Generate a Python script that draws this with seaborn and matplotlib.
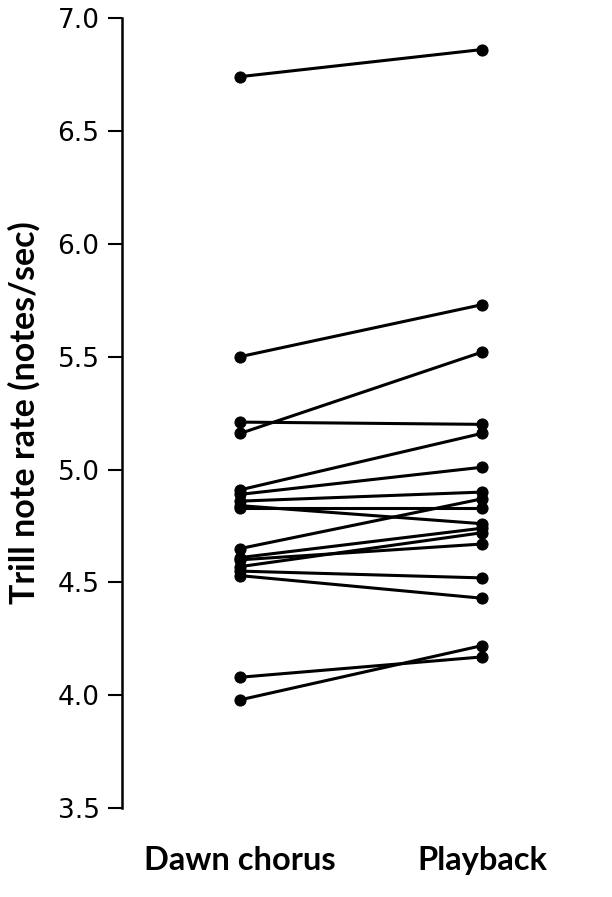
import matplotlib
matplotlib.use("Agg")
import matplotlib.pyplot as plt
import seaborn as sns
import pandas as pd

conditions = ["Dawn chorus", "Playback"]
dawn = [6.74, 5.50, 5.16, 5.21, 4.91, 4.89, 4.86, 4.84, 4.83,
        4.65, 4.61, 4.60, 4.57, 4.55, 4.53, 4.08, 3.98]
playback = [6.86, 5.73, 5.52, 5.20, 5.16, 5.01, 4.90, 4.76, 4.83,
            4.87, 4.74, 4.67, 4.72, 4.52, 4.43, 4.17, 4.22]
yticks = [3.5, 4.0, 4.5, 5.0, 5.5, 6.0, 6.5, 7.0]

rows = []
for i, (d, p) in enumerate(zip(dawn, playback)):
    rows.append({"bird": i, "condition": conditions[0], "rate": d})
    rows.append({"bird": i, "condition": conditions[1], "rate": p})
df = pd.DataFrame(rows)

sns.set_style("ticks")
plt.rcParams["text.color"] = "black"
plt.rcParams["xtick.color"] = "black"
plt.rcParams["ytick.color"] = "black"
plt.rcParams["axes.labelcolor"] = "black"
plt.rcParams["axes.edgecolor"] = "black"

fig = plt.figure(figsize=(6.12, 8.97), dpi=100)
ax = fig.add_axes([0.199, 0.099, 0.786, 0.881])
sns.lineplot(data=df, x="condition", y="rate", units="bird", estimator=None,
             color="black", linewidth=2.2, marker="o", markersize=8,
             markeredgecolor="black", ax=ax, sort=False)
ax.set_xlim(-0.49, 1.5)
ax.set_ylim(3.5, 7.0)
ax.set_yticks(yticks)
ax.set_yticklabels([f"{v:.1f}" for v in yticks], fontsize=19, family="DejaVu Sans")
ax.set_xticks([0, 1])
ax.set_xticklabels(conditions, fontsize=23.5, fontweight="bold", family="Lato")
ax.tick_params(axis="x", length=0, pad=27)
ax.tick_params(axis="y", length=10, width=1.5, direction="out", pad=6)
ax.set_xlabel("")
ax.set_ylabel("Trill note rate (notes/sec)", fontsize=24.5, fontweight="bold",
              family="Lato", labelpad=12)
for s in ["top", "right", "bottom"]:
    ax.spines[s].set_visible(False)
ax.spines["left"].set_linewidth(1.8)
fig.savefig("out.png", dpi=100)
